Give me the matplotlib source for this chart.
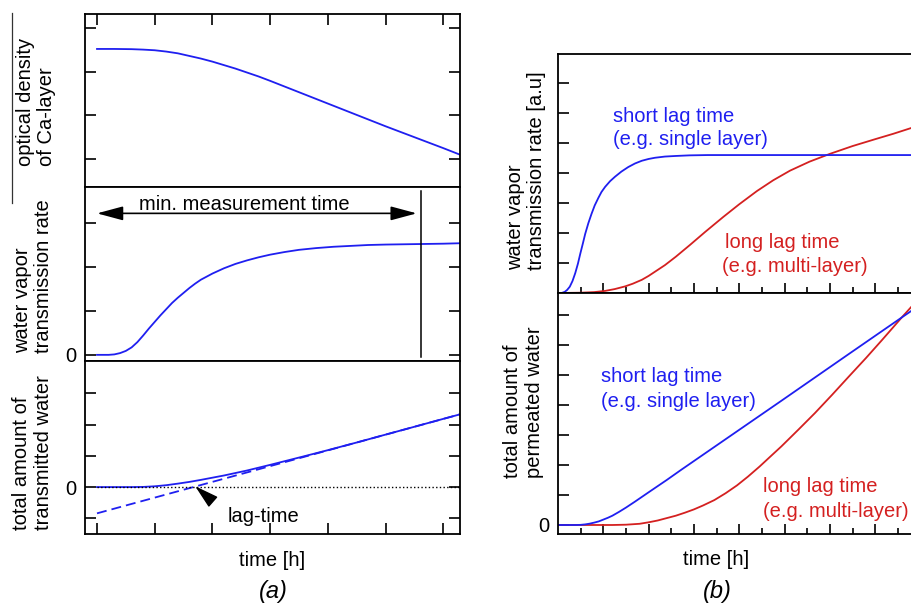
import matplotlib
matplotlib.use('Agg')
import matplotlib.pyplot as plt
from matplotlib.lines import Line2D

plt.rcParams['font.family'] = ['Liberation Sans', 'DejaVu Sans']

BLUE = '#1f1ff0'
RED = '#d42020'

# (a) optical density of the Ca layer
od_x = [0, 0.3, 0.6, 0.8, 1.0, 1.2, 1.4, 1.6, 1.8, 2.0, 2.2, 2.4, 2.6, 2.8, 3.0, 3.5, 4.0, 4.5, 5.0, 5.5,
        6.0, 6.29]
od_y = [2.52, 2.52, 2.515, 2.505, 2.49, 2.46, 2.42, 2.36, 2.30, 2.23, 2.15, 2.07, 1.98, 1.89, 1.79, 1.53,
        1.27, 1.01, 0.75, 0.50, 0.25, 0.10]

# (a) water vapor transmission rate
wvtr_x = [0, 0.2, 0.3, 0.4, 0.5, 0.6, 0.7, 0.8, 0.9, 1.0, 1.1, 1.2, 1.3, 1.4, 1.5, 1.6, 1.7, 1.8, 1.9, 2.0,
          2.2, 2.4, 2.6, 2.8, 3.0, 3.25, 3.5, 3.8, 4.1, 4.4, 4.7, 5.0, 5.5, 6.0, 6.29]
wvtr_y = [0, 0.0, 0.01, 0.04, 0.09, 0.17, 0.29, 0.44, 0.60, 0.75, 0.90, 1.04, 1.18, 1.30, 1.41, 1.52, 1.62,
          1.71, 1.78, 1.85, 1.97, 2.07, 2.15, 2.22, 2.28, 2.34, 2.39, 2.43, 2.46, 2.48, 2.50, 2.51, 2.52,
          2.53, 2.54]
min_time = 5.62

# (a) total transmitted water + asymptote
tot_x = [0, 0.6, 0.8, 1.0, 1.2, 1.4, 1.6, 1.8, 2.0, 2.2, 2.4, 2.6, 2.8, 3.0, 3.3, 3.6, 4.0, 4.5, 5.0, 5.5,
         6.0, 6.29]
tot_y = [0, 0.0, 0.005, 0.025, 0.06, 0.11, 0.165, 0.23, 0.30, 0.37, 0.45, 0.53, 0.62, 0.71, 0.85, 0.99,
         1.18, 1.425, 1.677, 1.928, 2.18, 2.325]
asym_x = [0, 6.29]
asym_y = [-0.84, 2.325]
lag_time = 1.70

# (b) rates
short_rate_x = [0, 0.08, 0.15, 0.2, 0.26, 0.32, 0.38, 0.44, 0.49, 0.55, 0.6, 0.67, 0.74, 0.81, 0.89, 0.96,
                1.04, 1.15, 1.26, 1.4, 1.55, 1.7, 1.85, 2.0, 2.14, 2.36, 2.6, 2.9, 3.3, 4.0, 5.0, 6.5, 7.9]
short_rate_y = [0, 0, 0.04, 0.1, 0.21, 0.4, 0.66, 0.98, 1.30, 1.66, 1.97, 2.33, 2.64, 2.92, 3.17, 3.37,
                3.54, 3.73, 3.88, 4.05, 4.20, 4.32, 4.41, 4.47, 4.51, 4.55, 4.57, 4.59, 4.6, 4.6, 4.6, 4.6,
                4.6]
long_rate_x = [0, 0.5, 0.8, 1.04, 1.25, 1.48, 1.65, 1.85, 2.0, 2.14, 2.36, 2.6, 2.91, 3.25, 3.65, 4.0,
               4.39, 4.75, 5.12, 5.55, 6.0, 6.5, 7.0, 7.4, 7.79, 7.9]
long_rate_y = [0, 0.01, 0.03, 0.07, 0.13, 0.22, 0.31, 0.44, 0.57, 0.71, 0.93, 1.21, 1.6, 2.04, 2.54, 2.96,
               3.40, 3.76, 4.08, 4.38, 4.64, 4.9, 5.13, 5.31, 5.50, 5.55]

# (b) cumulative amounts
short_cum_x = [0, 0.4, 0.5, 0.6, 0.7, 0.8, 0.9, 1.0, 1.1, 1.2, 1.35, 1.5, 1.7, 2.0, 2.4, 2.71, 3.45, 4.93,
               6.42, 7.6, 7.9]
short_cum_y = [0, 0, 0.005, 0.02, 0.045, 0.08, 0.12, 0.18, 0.24, 0.31, 0.44, 0.58, 0.78, 1.09, 1.5, 1.83,
               2.6, 4.14, 5.7, 6.93, 7.24]
long_cum_x = [0, 1.2, 1.5, 1.8, 2.0, 2.2, 2.4, 2.6, 2.8, 3.0, 3.2, 3.45, 3.7, 3.95, 4.19, 4.45, 4.7, 4.93,
              5.3, 5.67, 6.05, 6.42, 6.8, 7.16, 7.6, 7.9]
long_cum_y = [0, 0, 0.01, 0.04, 0.09, 0.15, 0.23, 0.31, 0.41, 0.52, 0.65, 0.83, 1.06, 1.32, 1.61, 1.95,
              2.3, 2.62, 3.17, 3.73, 4.34, 4.95, 5.57, 6.18, 6.94, 7.44]

W, H = 911, 607


def fx(px):
    return px / W


def fy(py):
    return 1 - py / H


def box(left, top, right, bottom):
    return [fx(left), fy(bottom), (right - left) / W, (bottom - top) / H]


fig = plt.figure(figsize=(W / 100, H / 100), dpi=100)

ax1 = fig.add_axes(box(85, 14, 460, 187))
ax2 = fig.add_axes(box(85, 187, 460, 361))
ax3 = fig.add_axes(box(85, 361, 460, 534))
ax4 = fig.add_axes(box(558, 54, 916, 293))
ax5 = fig.add_axes(box(558, 293, 916, 534))

for ax in [ax1, ax2, ax3, ax4, ax5]:
    for s in ax.spines.values():
        s.set_linewidth(1.3)
    ax.tick_params(direction='in', length=8, width=1.2, labelsize=14.5, pad=6)

# ---- (a) ----
for ax in [ax1, ax2, ax3]:
    ax.set_xlim(-0.208, 6.29)
    ax.set_xticks(range(7))
    ax.tick_params(right=True, labelbottom=False)

ax1.plot(od_x, od_y, color=BLUE, lw=1.3)
ax1.set_ylim(-0.64, 3.32)
ax1.set_yticks([0, 1, 2, 3])
ax1.set_yticklabels([])
ax1.tick_params(axis='x', top=True, bottom=False)

ax2.plot(wvtr_x, wvtr_y, color=BLUE, lw=1.3)
ax2.plot([min_time, min_time], [-0.04, 3.72], color='black', lw=1.1)
ax2.annotate('', xy=(5.54, 3.22), xytext=(0, 3.22),
             arrowprops=dict(arrowstyle='<|-|>,head_length=1.6,head_width=0.43', mutation_scale=10,
                             color='black', lw=1.2, shrinkA=0, shrinkB=0))
ax2.text(2.55, 3.30, 'min. measurement time', fontsize=14.5, ha='center', va='baseline')
ax2.set_ylim(-0.14, 3.82)
ax2.set_yticks([0, 1, 2, 3])
ax2.set_yticklabels(['0', '', '', ''])
ax2.tick_params(axis='x', top=False, bottom=False)

ax3.plot(asym_x, asym_y, color=BLUE, lw=1.3, dashes=(5.5, 2.8))
ax3.plot(tot_x, tot_y, color=BLUE, lw=1.3)
ax3.plot([0, 6.29], [0, 0], color='black', lw=1.0, ls=':')
ax3.annotate('', xy=(lag_time, 0.03), xytext=(11.3, -9.9), textcoords='offset points',
             arrowprops=dict(arrowstyle='-|>,head_length=1.5,head_width=0.42', mutation_scale=10,
                             color='black', lw=1, shrinkA=0, shrinkB=0))
ax3.text(2.27, -1.11, 'lag-time', fontsize=14.5, ha='left', va='baseline')
ax3.set_ylim(-1.5, 4.03)
ax3.set_yticks([-1, 0, 1, 2, 3])
ax3.set_yticklabels(['', '0', '', '', ''])

# ---- (b) ----
for ax in [ax4, ax5]:
    ax.set_xlim(0, 7.9)
    ax.set_xticks(range(1, 8))
    ax.set_xticks([i + 0.5 for i in range(8)], minor=True)
    ax.tick_params(axis='x', which='major', length=7, labelbottom=False)
    ax.tick_params(axis='x', which='minor', direction='in', length=4.5, width=1.2)

ax4.plot(long_rate_x, long_rate_y, color=RED, lw=1.3)
ax4.plot(short_rate_x, short_rate_y, color=BLUE, lw=1.3)
ax4.set_ylim(0, 7.97)
ax4.set_yticks(range(1, 8))
ax4.set_yticklabels([])
ax4.text(1.22, 5.71, 'short lag time', color=BLUE, fontsize=14.5, va='baseline')
ax4.text(1.22, 4.93, '(e.g. single layer)', color=BLUE, fontsize=14.5, va='baseline')
ax4.text(3.69, 1.49, 'long lag time', color=RED, fontsize=14.5, va='baseline')
ax4.text(3.63, 0.71, '(e.g. multi-layer)', color=RED, fontsize=14.5, va='baseline')

ax5.plot(long_cum_x, long_cum_y, color=RED, lw=1.3)
ax5.plot(short_cum_x, short_cum_y, color=BLUE, lw=1.3)
ax5.set_ylim(-0.3, 7.73)
ax5.set_yticks(range(8))
ax5.set_yticklabels(['0'] + [''] * 7)
ax5.text(0.95, 4.78, 'short lag time', color=BLUE, fontsize=14.5, va='baseline')
ax5.text(0.95, 3.94, '(e.g. single layer)', color=BLUE, fontsize=14.5, va='baseline')
ax5.text(4.53, 1.11, 'long lag time', color=RED, fontsize=14.5, va='baseline')
ax5.text(4.53, 0.28, '(e.g. multi-layer)', color=RED, fontsize=14.5, va='baseline')

# axis labels
lab = dict(rotation=90, ha='center', va='bottom', multialignment='left', fontsize=14.5, linespacing=1.15)
fig.text(fx(36), fy(166), 'optical density\nof Ca-layer', **lab)
fig.text(fx(33), fy(353), 'water vapor\ntransmission rate', **lab)
fig.text(fx(32.5), fy(530), 'total amount of\ntransmitted water', **lab)
fig.text(fx(526), fy(270), 'water vapor\ntransmission rate [a.u]', **lab)
fig.text(fx(523.5), fy(478), 'total amount of\npermeated water', **lab)

fig.text(fx(272), fy(566), 'time [h]', fontsize=14.5, ha='center', va='baseline')
fig.text(fx(716), fy(565), 'time [h]', fontsize=14.5, ha='center', va='baseline')
fig.text(fx(273), fy(598), '(a)', fontsize=17, style='italic', ha='center', va='baseline')
fig.text(fx(717), fy(598), '(b)', fontsize=17, style='italic', ha='center', va='baseline')

# stray border line left of the first label
fig.add_artist(Line2D([fx(12), fx(12)], [fy(13), fy(203)], color='#333333', lw=0.9))

fig.savefig('out.png', dpi=100)
